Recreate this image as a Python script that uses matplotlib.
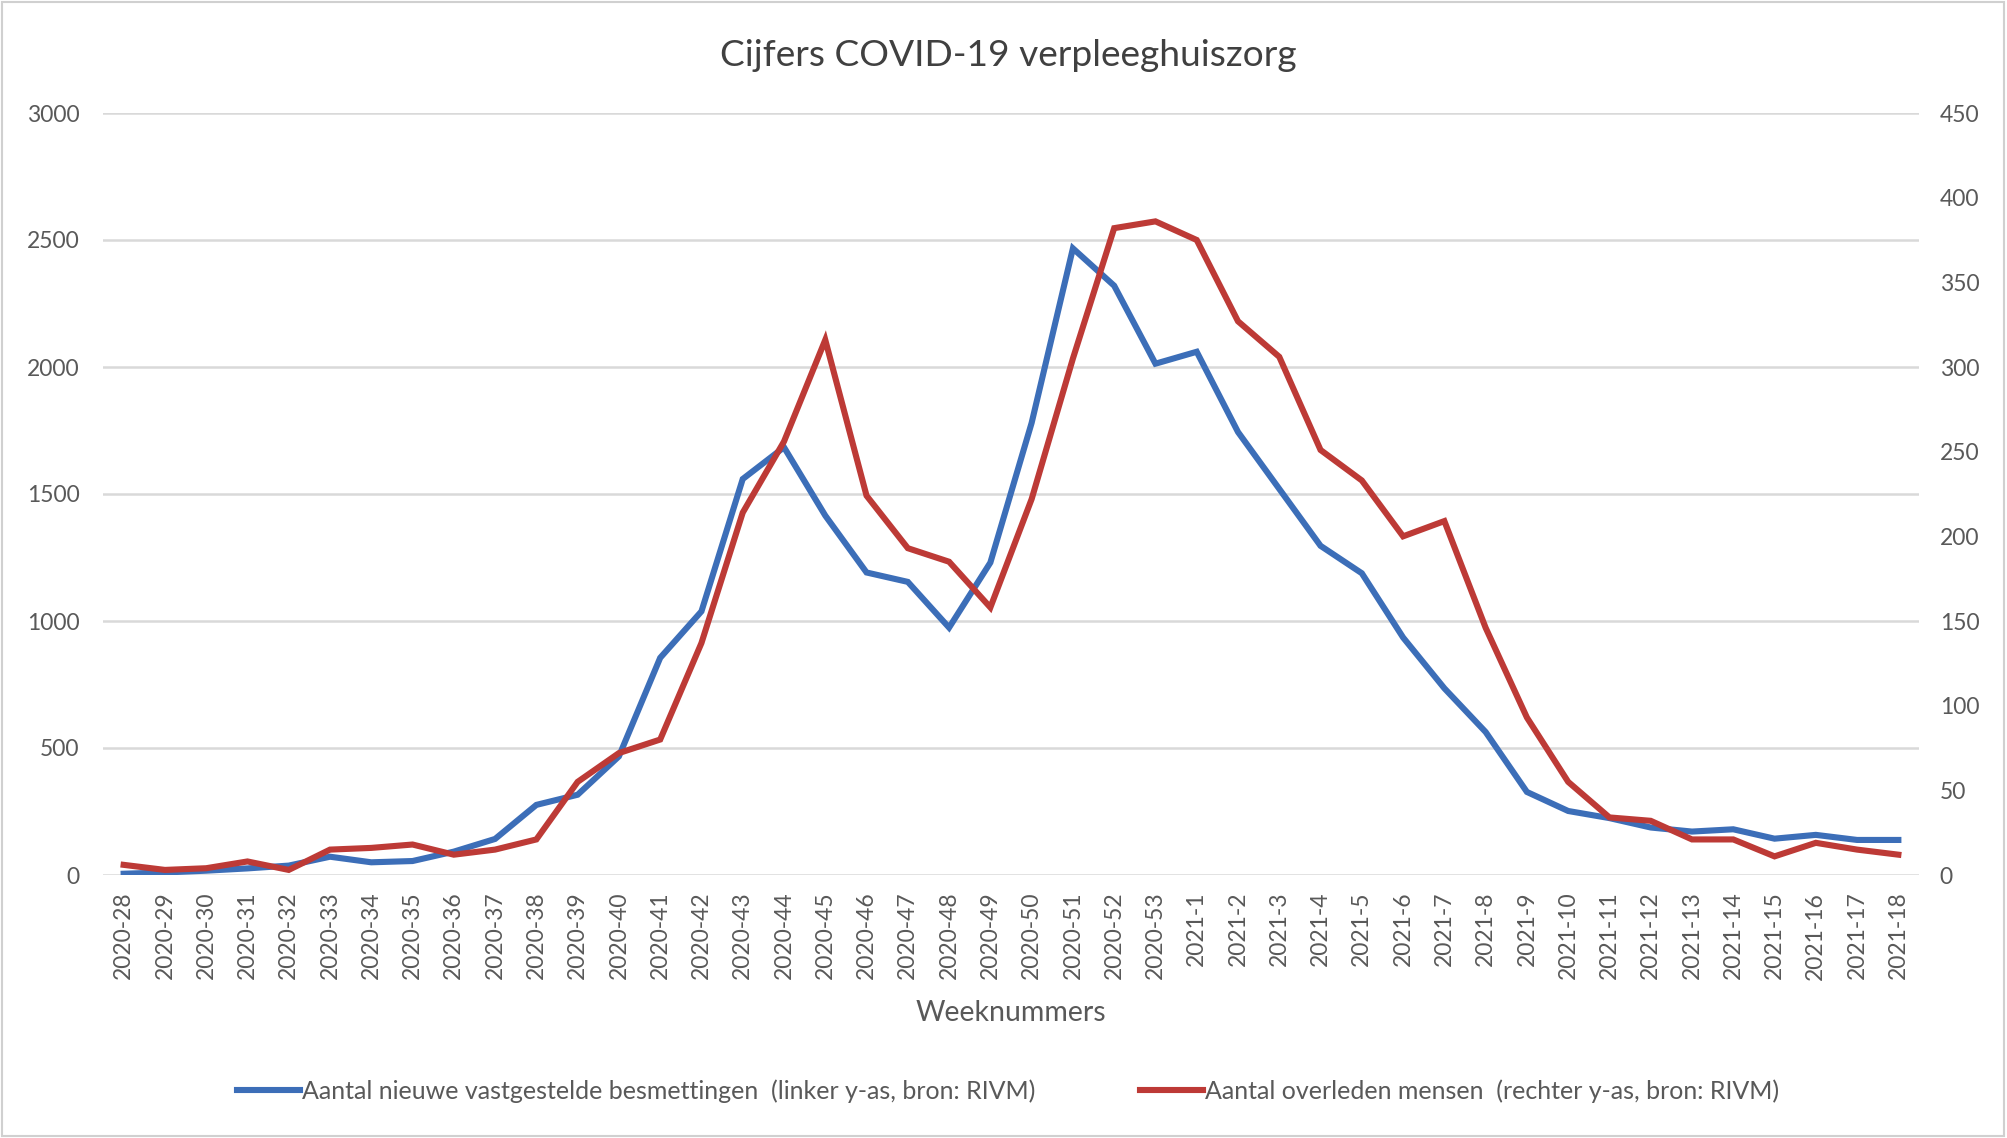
import matplotlib
matplotlib.use("Agg")
import matplotlib.pyplot as plt
from matplotlib.patches import Rectangle
from matplotlib.lines import Line2D

plt.rcParams['font.family'] = ['Lato', 'DejaVu Sans']

weeks = [f"2020-{w}" for w in range(28, 54)] + [f"2021-{w}" for w in range(1, 19)]

besmettingen = [5, 10, 17, 26, 37, 72, 50, 55, 92, 142, 276, 316, 467, 855, 1038,
                1559, 1684, 1415, 1191, 1154, 974, 1230, 1780, 2467, 2320, 2013,
                2060, 1744, 1520, 1296, 1188, 935, 735, 563, 327, 252, 224, 187,
                171, 180, 143, 158, 138, 138]

overleden = [6, 3, 4, 8, 3, 15, 16, 18, 12, 15, 21, 55, 72, 80, 137, 214, 256,
             316, 224, 193, 185, 158, 222, 305, 382, 386, 375, 327, 306, 251,
             233, 200, 209, 146, 93, 55, 34, 32, 21, 21, 11, 19, 15, 12]

title = "Cijfers COVID-19 verpleeghuiszorg"
xlabel = "Weeknummers"
label_blue = "Aantal nieuwe vastgestelde besmettingen  (linker y-as, bron: RIVM)"
label_red = "Aantal overleden mensen  (rechter y-as, bron: RIVM)"
left_ticks = [0, 500, 1000, 1500, 2000, 2500, 3000]
right_ticks = [0, 50, 100, 150, 200, 250, 300, 350, 400, 450]

BLUE = '#3C6EB8'
RED = '#BD3A36'
TXT = '#595959'

W, H = 2008, 1138
fig = plt.figure(figsize=(W / 100, H / 100), dpi=100)
fig.patch.set_facecolor('white')
fig.patches.append(Rectangle((0.001, 0.002), 0.997, 0.996, transform=fig.transFigure,
                             fill=False, edgecolor='#D0D0D0', linewidth=1.5))

left, right, top, bottom = 103 / W, 1919 / W, 1 - 113 / H, 1 - 875 / H
ax = fig.add_axes([left, bottom, right - left, top - bottom])
ax2 = ax.twinx()

x = list(range(len(weeks)))
ax.plot(x, besmettingen, color=BLUE, lw=4.4, solid_joinstyle='miter', zorder=3)
ax2.plot(x, overleden, color=RED, lw=4.4, solid_joinstyle='miter', zorder=3)

ax.set_xlim(-0.5, len(weeks) - 0.5)
ax.set_ylim(0, 3000)
ax2.set_ylim(0, 450)
ax.set_yticks(left_ticks)
ax.set_yticklabels([str(t) for t in left_ticks])
ax2.set_yticks(right_ticks)
ax2.set_yticklabels([str(t) for t in right_ticks])
ax.set_xticks(x)
ax.set_xticklabels(weeks, rotation=90)

ax.grid(axis='y', color='#D9D9D9', lw=1.8)
ax.set_axisbelow(True)
for a in (ax, ax2):
    for s in a.spines.values():
        s.set_visible(False)
ax.tick_params(axis='both', length=0, labelsize=16.5, colors=TXT)
ax.tick_params(axis='y', pad=17)
ax.tick_params(axis='x', pad=12)
ax2.tick_params(axis='y', length=0, labelsize=16.5, colors=TXT, pad=15)

ax.set_xlabel(xlabel, fontsize=20.5, color=TXT, labelpad=15)
fig.text(0.502, 1 - 55 / H, title, ha='center', va='center', fontsize=26.7, color='#404040')

handles = [Line2D([], [], color=BLUE, lw=4.4), Line2D([], [], color=RED, lw=4.4)]
fig.legend(handles, [label_blue, label_red], loc='center', bbox_to_anchor=(0.502, 1 - 1091 / H),
           ncol=2, frameon=False, fontsize=18, handlelength=2.55, handletextpad=0.08,
           columnspacing=4.15, labelcolor=TXT)

fig.savefig('out.png', dpi=100)
